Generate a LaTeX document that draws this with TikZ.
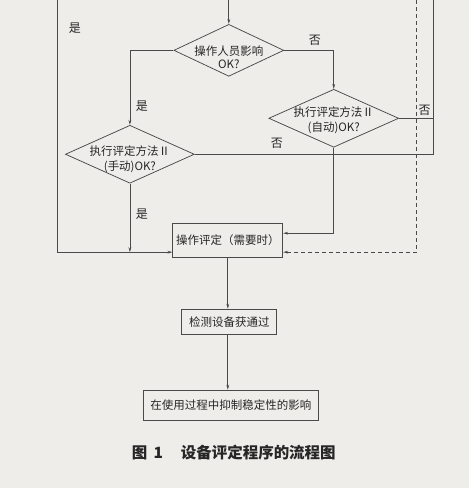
\documentclass[tikz,border=0pt]{standalone}
\usepackage{fontspec}
\newfontfamily\cjk{Noto Sans CJK SC}
\usetikzlibrary{shapes.geometric,arrows.meta}
\definecolor{bg}{HTML}{EEEDEA}
\definecolor{ln}{HTML}{4A4A4A}
\definecolor{tx}{HTML}{262626}
\begin{document}
\begin{tikzpicture}[x=1pt,y=-1pt,
  line/.style={draw=ln,line width=0.75pt},
  arr/.style={line,-{Stealth[length=5pt,width=2.8pt]}},
  dashline/.style={dash pattern=on 4pt off 3pt},
  dia/.style={diamond,draw=ln,line width=0.75pt,inner sep=0pt},
  box/.style={rectangle,draw=ln,line width=0.75pt,inner sep=0pt,font=\cjk\fontsize{11.5}{14}\selectfont,text=tx},
  lab/.style={font=\cjk\fontsize{12}{14}\selectfont,text=tx,inner sep=0pt},
  dtext/.style={font=\cjk\fontsize{11.5}{14.5}\selectfont,text=tx,align=center,inner sep=0pt}]
\path[fill=bg] (0,0) rectangle (469,488);
% decisions
\node[dia,minimum width=110pt,minimum height=52pt] (d1) at (229,50) {};
\node[dtext,font=\cjk\fontsize{11.5}{12.5}\selectfont] (d1t) at (229,57) {操作人员影响\\OK?};
\node[dia,minimum width=130pt,minimum height=58pt] (d2) at (334,118) {};
\node[dtext] (d2t) at (334,120) {执行评定方法Ⅱ\\(自动)OK?};
\node[dia,minimum width=129pt,minimum height=58pt] (d3) at (130,154) {};
\node[dtext] (d3t) at (130,159) {执行评定方法Ⅱ\\(手动)OK?};
% boxes
\node[box,minimum width=110pt,minimum height=34pt] (b1) at (228,240) {操作评定（需要时）};
\node[box,minimum width=95pt,minimum height=25pt] (b2) at (229.5,321.5) {检测设备获通过};
\node[box,minimum width=176pt,minimum height=30pt] (b3) at (231,405) {在使用过程中抑制稳定性的影响};
% coordinates
\coordinate (t1) at (229,0);
\coordinate (tl) at (57,0);
\coordinate (td) at (417,0);
\coordinate (tr) at (434,0);
\coordinate (bw) at ([yshift=-12pt]b1.west);
\coordinate (be) at ([yshift=-12pt]b1.east);
\coordinate (be2) at ([yshift=7pt]b1.east);
% connectors
\draw[arr] (t1) -- (d1.north);
\draw[arr] (d1.west) -| (d3.north);
\draw[arr] (d1.east) -| (d2.north);
\draw[line] (d2.east) -- (d2.east -| tr);
\draw[line] (tr) |- (d3.east);
\draw[arr] (d2.south) |- (be2);
\draw[arr,dashline] (td) |- (be);
\draw[arr] (tl) |- (bw);
\draw[arr] (d3.south) -- (d3.south |- bw);
\draw[arr] (b1.south) -- (b1.south |- b2.north);
\draw[arr] (b2.south -| b1.south) -- (b1.south |- b3.north);
% labels
\node[lab] (y1) at (75,28) {是};
\node[lab] (n1) at (315,40) {否};
\node[lab] (y2) at (142,106) {是};
\node[lab] (n2) at (425,110) {否};
\node[lab] (n3) at (277,143) {否};
\node[lab] (y3) at (142,214) {是};
% caption
\node[font=\cjk\bfseries\fontsize{15.5}{18}\selectfont,text=tx,inner sep=0pt] (cap) at (234,453) {图\hspace{0.4em}1\hspace{1.15em}设备评定程序的流程图};
\end{tikzpicture}
\end{document}
